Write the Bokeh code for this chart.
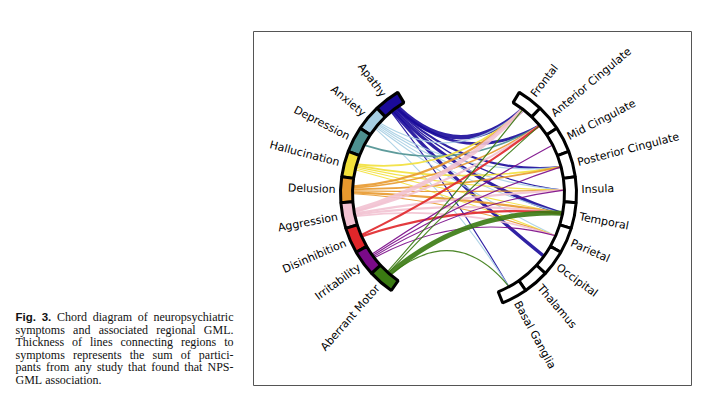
import math
from bokeh.plotting import figure
from bokeh.models import Range1d, ColumnDataSource
from bokeh.embed import file_html
from bokeh.resources import INLINE
from bokeh.core.properties import value

# ---------------- data ----------------
symptoms = ["Apathy", "Anxiety", "Depression", "Hallucination", "Delusion",
            "Aggression", "Disinhibition", "Irritability", "Aberrant Motor"]
symptom_colors = ["#1a0a9a", "#a6cee3", "#4d9090", "#f2e03a", "#e8992e",
                  "#f2c2d2", "#e0262a", "#7a0a88", "#3a7a12"]
regions = ["Frontal", "Anterior Cingulate", "Mid Cingulate", "Posterior Cingulate",
           "Insula", "Temporal", "Parietal", "Occipital", "Thalamus", "Basal Ganglia"]

link_symptom = ["Apathy", "Apathy", "Apathy", "Apathy", "Apathy", "Apathy", "Apathy",
                "Anxiety", "Anxiety", "Anxiety", "Anxiety", "Anxiety", "Anxiety",
                "Depression",
                "Hallucination", "Hallucination", "Hallucination", "Hallucination", "Hallucination",
                "Delusion", "Delusion", "Delusion", "Delusion", "Delusion", "Delusion",
                "Aggression", "Aggression", "Aggression", "Aggression", "Aggression",
                "Disinhibition", "Disinhibition",
                "Irritability", "Irritability", "Irritability", "Irritability",
                "Aberrant Motor", "Aberrant Motor", "Aberrant Motor", "Aberrant Motor"]
link_region = ["Frontal", "Anterior Cingulate", "Posterior Cingulate", "Insula", "Temporal", "Occipital", "Basal Ganglia",
               "Frontal", "Posterior Cingulate", "Insula", "Temporal", "Parietal", "Basal Ganglia",
               "Anterior Cingulate",
               "Frontal", "Posterior Cingulate", "Insula", "Temporal", "Parietal",
               "Frontal", "Anterior Cingulate", "Posterior Cingulate", "Insula", "Temporal", "Parietal",
               "Frontal", "Anterior Cingulate", "Insula", "Temporal", "Parietal",
               "Anterior Cingulate", "Temporal",
               "Mid Cingulate", "Posterior Cingulate", "Insula", "Parietal",
               "Frontal", "Anterior Cingulate", "Temporal", "Basal Ganglia"]
link_weight = [7, 4, 3, 1, 5, 5, 1,
               1, 1, 1, 1, 1, 1,
               2,
               2, 2, 1, 1, 1,
               3, 2, 2, 1, 3, 1,
               7, 3, 3, 3, 2,
               3, 3,
               1, 1, 1, 1,
               1, 1, 8, 1]

caption_lines = ["Fig. 3. Chord diagram of neuropsychiatric",
                 "symptoms and associated regional GML.",
                 "Thickness of lines connecting regions to",
                 "symptoms represents the sum of partici-",
                 "pants from any study that found that NPS-",
                 "GML association."]

# ---------------- layout ----------------
W, H = 700, 398
PAGE_H = 414


def Y(y_img):
    return PAGE_H - y_img


CX, CY = 458.0, Y(193.0)
R_IN, R_OUT, R_LAB = 106.0, 118.0, 123.0
SEG = 12.7
LEFT_TOP = 121.0
RIGHT_TOP = 59.0
PULL = 0.33

p = figure(width=W, height=H, x_range=Range1d(0, W), y_range=Range1d(Y(H), Y(0)),
           output_backend="svg", toolbar_location=None, min_border=0,
           x_axis_location=None, y_axis_location=None)
p.grid.visible = False
p.outline_line_color = None
p.background_fill_color = "white"
p.border_fill_color = "white"

# panel frame
p.quad(left=[253], right=[691], bottom=[Y(385)], top=[Y(31)],
       fill_color=None, line_color="#555555", line_width=1)

rad = math.radians

left_center = {s: LEFT_TOP + (i + 0.5) * SEG for i, s in enumerate(symptoms)}
right_center = {r: RIGHT_TOP - (j + 0.5) * SEG for j, r in enumerate(regions)}

# ---------------- chords ----------------
x0, y0, x1, y1, cxs, cys, cols, wids = [], [], [], [], [], [], [], []
for i, s in enumerate(symptoms):
    idx = [k for k in range(len(link_symptom)) if link_symptom[k] == s]
    idx.sort(key=lambda k: regions.index(link_region[k]))
    n = len(idx)
    spread = min(SEG * 0.35, 0.8 * (n - 1))
    for m, k in enumerate(idx):
        off = 0.0 if n == 1 else -spread / 2 + spread * m / (n - 1)
        th = rad(left_center[s] + off)
        ph = rad(right_center[link_region[k]])
        ax, ay = CX + (R_IN - 1) * math.cos(th), CY + (R_IN - 1) * math.sin(th)
        bx, by = CX + (R_IN - 1) * math.cos(ph), CY + (R_IN - 1) * math.sin(ph)
        mx, my = (ax + bx) / 2, (ay + by) / 2
        x0.append(ax); y0.append(ay); x1.append(bx); y1.append(by)
        cxs.append(CX + PULL * (mx - CX)); cys.append(CY + PULL * (my - CY))
        cols.append(symptom_colors[i])
        wids.append(0.6 + 0.55 * link_weight[k])

chords = ColumnDataSource(dict(x0=x0, y0=y0, x1=x1, y1=y1, cx=cxs, cy=cys, color=cols, width=wids))
p.quadratic(x0="x0", y0="y0", x1="x1", y1="y1", cx="cx", cy="cy", source=chords,
            line_color="color", line_width="width", line_alpha=0.9)

# ---------------- ring segments ----------------
starts = [rad(LEFT_TOP + i * SEG) for i in range(len(symptoms))] + \
         [rad(RIGHT_TOP - (j + 1) * SEG) for j in range(len(regions))]
ends = [rad(LEFT_TOP + (i + 1) * SEG) for i in range(len(symptoms))] + \
       [rad(RIGHT_TOP - j * SEG) for j in range(len(regions))]
fills = symptom_colors + ["white"] * len(regions)
ring = ColumnDataSource(dict(x=[CX] * len(fills), y=[CY] * len(fills), s=starts, e=ends, f=fills))
p.annular_wedge(x="x", y="y", inner_radius=R_IN, outer_radius=R_OUT, start_angle="s", end_angle="e",
                fill_color="f", line_color="black", line_width=3, source=ring)

# ---------------- labels ----------------
lx = [CX + R_LAB * math.cos(rad(left_center[s])) for s in symptoms]
ly = [CY + R_LAB * math.sin(rad(left_center[s])) for s in symptoms]
la = [rad(left_center[s] - 180) for s in symptoms]
p.text(x=lx, y=ly, text=symptoms, angle=la, text_align="right", text_baseline="middle",
       text_font=value("DejaVu Sans"), text_font_size="11px", text_color="black")
rx = [CX + R_LAB * math.cos(rad(right_center[r])) for r in regions]
ry = [CY + R_LAB * math.sin(rad(right_center[r])) for r in regions]
ra = [rad(right_center[r]) for r in regions]
p.text(x=rx, y=ry, text=regions, angle=ra, text_align="left", text_baseline="middle",
       text_font=value("DejaVu Sans"), text_font_size="11px", text_color="black")

# ---------------- caption (justified) ----------------
SERIF = {' ': 250, '.': 250, ',': 250, '-': 333, 'a': 444, 'b': 500, 'c': 444, 'd': 500, 'e': 444,
         'f': 333, 'g': 500, 'h': 500, 'i': 278, 'j': 278, 'k': 500, 'l': 278, 'm': 778, 'n': 500,
         'o': 500, 'p': 500, 'q': 500, 'r': 333, 's': 389, 't': 278, 'u': 500, 'v': 500, 'w': 722,
         'x': 500, 'y': 500, 'z': 444, 'C': 667, 'G': 722, 'L': 611, 'M': 889, 'N': 722, 'P': 556,
         'S': 556, 'T': 611, 'F': 556}
SANS_BOLD = {'F': 611, 'i': 278, 'g': 611, '.': 278, '3': 556, ' ': 278}
CAP_L, CAP_R = 15.0, 233.0
CAP_BASE0, CAP_LEAD = 316.5, 12.5
CAP_SIZE = 12.0
BOLD_SIZE = 11.5

reg = dict(x=[], y=[], t=[])
bold = dict(x=[], y=[], t=[])
for k, line in enumerate(caption_lines):
    words = line.split(" ")
    isb = [k == 0 and q < 2 for q in range(len(words))]
    widths = [sum((SANS_BOLD if b else SERIF).get(ch, 500) for ch in w) * (BOLD_SIZE if b else CAP_SIZE) / 1000
              for w, b in zip(words, isb)]
    if k < len(caption_lines) - 1 and len(words) > 1:
        gap = (CAP_R - CAP_L - sum(widths)) / (len(words) - 1)
    else:
        gap = 250 * CAP_SIZE / 1000
    x = CAP_L
    for w, b, wd in zip(words, isb, widths):
        d = bold if b else reg
        d["x"].append(x); d["y"].append(Y(CAP_BASE0 + k * CAP_LEAD)); d["t"].append(w)
        x += wd + gap

p.text(x="x", y="y", text="t", source=ColumnDataSource(reg), text_align="left",
       text_baseline="alphabetic", text_font=value("Liberation Serif"),
       text_font_size=f"{CAP_SIZE}px", text_color="#111111")
p.text(x="x", y="y", text="t", source=ColumnDataSource(bold), text_align="left",
       text_baseline="alphabetic", text_font=value("Liberation Sans"), text_font_style="bold",
       text_font_size=f"{BOLD_SIZE}px", text_color="#111111")

open("out.html", "w").write(file_html(p, INLINE))
